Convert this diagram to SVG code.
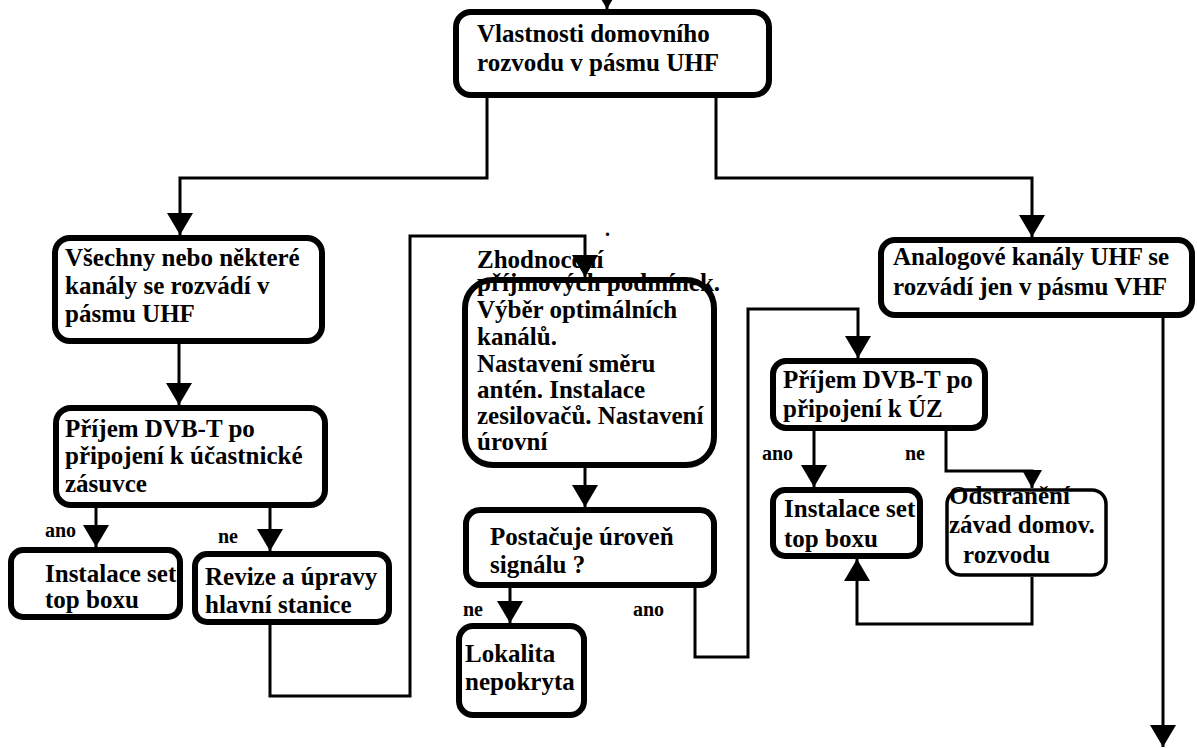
<svg xmlns="http://www.w3.org/2000/svg" width="1197" height="749" viewBox="0 0 1197 749">
<style>
.box{fill:#fff;stroke:#000;stroke-width:6}
.thin{fill:#fff;stroke:#000;stroke-width:3.5}
.ol{fill:none;stroke:#000;stroke-width:6}
.bg{fill:#fff;stroke:none}
.t{font-family:"Liberation Serif","Times New Roman",serif;font-weight:bold;font-size:25px;fill:#000}
.s{font-family:"Liberation Serif","Times New Roman",serif;font-weight:bold;font-size:20px;fill:#000}
.c{fill:none;stroke:#000;stroke-width:3;marker-end:url(#ah)}
.cn{fill:none;stroke:#000;stroke-width:3}
</style>
<defs>
<marker id="ah" markerUnits="userSpaceOnUse" markerWidth="22" markerHeight="26" refX="22" refY="13" orient="auto"><path d="M0,0 L22,13 L0,26 z" fill="#000"/></marker>
<marker id="ahs" markerUnits="userSpaceOnUse" markerWidth="18" markerHeight="20" refX="18" refY="10" orient="auto"><path d="M0,0 L18,10 L0,20 z" fill="#000"/></marker>
</defs>
<rect width="1197" height="749" fill="#fff"/>
<g id="n-top"><rect class="box" x="456" y="12" width="313" height="83" rx="15"/>
<text class="t" x="477" y="42">Vlastnosti domovního</text><text class="t" x="477" y="71">rozvodu v pásmu UHF</text></g>
<g id="n-vsechny"><rect class="box" x="55" y="238" width="267" height="103" rx="15"/>
<text class="t" x="65" y="266">Všechny nebo některé</text><text class="t" x="65" y="294">kanály se rozvádí v</text><text class="t" x="65" y="322">pásmu UHF</text></g>
<g id="n-prijem1"><rect class="box" x="56" y="408" width="269" height="97" rx="15"/>
<text class="t" x="65" y="437">Příjem DVB-T po</text><text class="t" x="65" y="464">připojení k účastnické</text><text class="t" x="65" y="492">zásuvce</text></g>
<g id="n-instalace1"><rect class="box" x="11" y="550" width="169" height="67" rx="12"/>
<text class="t" x="45" y="582">Instalace set</text><text class="t" x="45" y="608">top boxu</text></g>
<g id="n-revize"><rect class="box" x="195" y="554" width="194" height="68" rx="12"/>
<text class="t" x="205" y="585">Revize a úpravy</text><text class="t" x="205" y="613">hlavní stanice</text></g>
<g id="n-zhodnoceni"><rect class="bg" x="465" y="280" width="249" height="185" rx="28"/>
<text class="t" x="477" y="268">Zhodnocení</text><text class="t" x="477" y="291">příjmových podmínek.</text><text class="t" x="477" y="318">Výběr optimálních</text><text class="t" x="477" y="345">kanálů.</text><text class="t" x="477" y="372">Nastavení směru</text><text class="t" x="477" y="398">antén. Instalace</text><text class="t" x="477" y="424">zesilovačů. Nastavení</text><text class="t" x="477" y="450">úrovní</text>
<rect class="ol" x="465" y="280" width="249" height="185" rx="28"/></g>
<g id="n-postacuje"><rect class="box" x="466" y="510" width="248" height="75" rx="14"/>
<text class="t" x="490" y="545">Postačuje úroveň</text><text class="t" x="490" y="573">signálu ?</text></g>
<g id="n-lokalita"><rect class="box" x="459" y="626" width="125" height="89" rx="14"/>
<text class="t" x="465" y="662">Lokalita</text><text class="t" x="465" y="690">nepokryta</text></g>
<g id="n-analog"><rect class="box" x="881" y="240" width="311" height="75" rx="14"/>
<text class="t" x="893" y="265">Analogové kanály UHF se</text><text class="t" x="893" y="295">rozvádí jen v pásmu VHF</text></g>
<g id="n-prijem2"><rect class="box" x="773" y="361" width="212" height="67" rx="13"/>
<text class="t" x="783" y="388">Příjem DVB-T po</text><text class="t" x="783" y="417">připojení k ÚZ</text></g>
<g id="n-instalace2"><rect class="box" x="773" y="490" width="147" height="66" rx="12"/>
<text class="t" x="784" y="517">Instalace set</text><text class="t" x="784" y="547">top boxu</text></g>
<g id="n-odstraneni"><rect class="thin" x="947" y="490" width="159" height="85" rx="14"/>
<text class="t" x="949" y="504">Odstranění</text><text class="t" x="949" y="533">závad domov.</text><text class="t" x="963" y="563">rozvodu</text></g>
<g id="connectors">
<path class="c" d="M607,-30 V9"/>
<path class="c" d="M487,98 V178 H180 V235"/>
<path class="c" d="M716,98 V178 H1032 V237"/>
<path class="c" d="M179,344 V405"/>
<path class="c" d="M96,508 V547"/>
<path class="c" d="M270,508 V551"/>
<path class="c" d="M270,625 V696 H410 V236 H585 V277"/>
<path class="c" d="M585,468 V507"/>
<path class="c" d="M510,588 V623"/>
<path class="c" d="M695,588 V657 H748 V309 H858 V358"/>
<path class="c" d="M814,431 V487"/>
<path class="cn" d="M946,431 V471 H1032 V488" style="marker-end:url(#ahs)"/>
<path class="c" d="M1032,577 V624 H857 V559"/>
<path class="c" d="M1163,318 V747"/>
</g>
<g id="labels">
<text class="s" x="45" y="537">ano</text>
<text class="s" x="218" y="543">ne</text>
<text class="s" x="463" y="616">ne</text>
<text class="s" x="633" y="616">ano</text>
<text class="s" x="762" y="460">ano</text>
<text class="s" x="905" y="460">ne</text>
<text class="s" x="605" y="236">.</text>
</g>
</svg>
